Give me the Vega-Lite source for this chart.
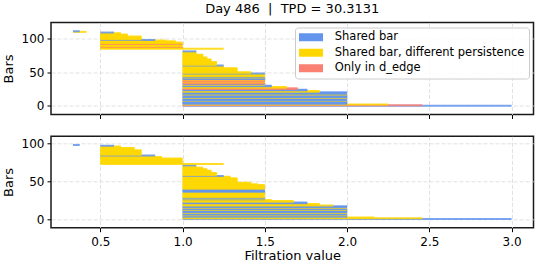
{
  "$schema": "https://vega.github.io/schema/vega-lite/v6.json",
  "padding": {"left": 1, "top": 1.5, "right": 0, "bottom": 0},
  "config": {
    "font": "DejaVu Sans",
    "view": {"stroke": "#1a1a1a", "strokeWidth": 1.5},
    "axis": {
      "grid": true, "gridColor": "#d9d9d9", "gridDash": [4, 2], "gridWidth": 0.8,
      "domain": false, "tickColor": "#000000", "tickSize": 4, "tickWidth": 1,
      "labelFontSize": 12, "labelColor": "#000000",
      "titleFontSize": 13, "titleFontWeight": "normal", "titleColor": "#000000"
    },
    "concat": {"spacing": 14.8}
  },
  "datasets": {
    "top": [
      {"y": 0, "b": 1, "d": 3.0, "c": "S"},
      {"y": 1, "b": 1, "d": 2.4583, "c": "O"},
      {"y": 2, "b": 1, "d": 2.25, "c": "D"},
      {"y": 3, "b": 1, "d": 2.0, "c": "S"},
      {"y": 4, "b": 1, "d": 2.0, "c": "S"},
      {"y": 5, "b": 1, "d": 2.0, "c": "S"},
      {"y": 6, "b": 1, "d": 2.0, "c": "S"},
      {"y": 7, "b": 1, "d": 2.0, "c": "D"},
      {"y": 8, "b": 1, "d": 2.0, "c": "S"},
      {"y": 9, "b": 1, "d": 2.0, "c": "S"},
      {"y": 10, "b": 1, "d": 2.0, "c": "S"},
      {"y": 11, "b": 1, "d": 2.0, "c": "S"},
      {"y": 12, "b": 1, "d": 2.0, "c": "D"},
      {"y": 13, "b": 1, "d": 2.0, "c": "S"},
      {"y": 14, "b": 1, "d": 2.0, "c": "S"},
      {"y": 15, "b": 1, "d": 2.0, "c": "S"},
      {"y": 16, "b": 1, "d": 2.0, "c": "S"},
      {"y": 17, "b": 1, "d": 2.0, "c": "D"},
      {"y": 18, "b": 1, "d": 2.0, "c": "S"},
      {"y": 19, "b": 1, "d": 2.0, "c": "S"},
      {"y": 20, "b": 1, "d": 2.0, "c": "S"},
      {"y": 21, "b": 1, "d": 1.8333, "c": "D"},
      {"y": 22, "b": 1, "d": 1.8333, "c": "D"},
      {"y": 23, "b": 1, "d": 1.7583, "c": "S"},
      {"y": 24, "b": 1, "d": 1.7583, "c": "S"},
      {"y": 25, "b": 1, "d": 1.7, "c": "O"},
      {"y": 26, "b": 1, "d": 1.7, "c": "O"},
      {"y": 27, "b": 1, "d": 1.6333, "c": "D"},
      {"y": 28, "b": 1, "d": 1.6333, "c": "D"},
      {"y": 29, "b": 1, "d": 1.5417, "c": "S"},
      {"y": 30, "b": 1, "d": 1.5417, "c": "S"},
      {"y": 31, "b": 1, "d": 1.5, "c": "D"},
      {"y": 32, "b": 1, "d": 1.5, "c": "S"},
      {"y": 33, "b": 1, "d": 1.5, "c": "O"},
      {"y": 34, "b": 1, "d": 1.5, "c": "O"},
      {"y": 35, "b": 1, "d": 1.5, "c": "D"},
      {"y": 36, "b": 1, "d": 1.5, "c": "O"},
      {"y": 37, "b": 1, "d": 1.5, "c": "O"},
      {"y": 38, "b": 1, "d": 1.5, "c": "D"},
      {"y": 39, "b": 1, "d": 1.5, "c": "O"},
      {"y": 40, "b": 1, "d": 1.5, "c": "S"},
      {"y": 41, "b": 1, "d": 1.5, "c": "S"},
      {"y": 42, "b": 1, "d": 1.5, "c": "D"},
      {"y": 43, "b": 1, "d": 1.5, "c": "S"},
      {"y": 44, "b": 1, "d": 1.5, "c": "D"},
      {"y": 45, "b": 1, "d": 1.5, "c": "D"},
      {"y": 46, "b": 1, "d": 1.5, "c": "D"},
      {"y": 47, "b": 1, "d": 1.5, "c": "D"},
      {"y": 48, "b": 1, "d": 1.5, "c": "S"},
      {"y": 49, "b": 1, "d": 1.4167, "c": "D"},
      {"y": 50, "b": 1, "d": 1.4167, "c": "D"},
      {"y": 51, "b": 1, "d": 1.3333, "c": "D"},
      {"y": 52, "b": 1, "d": 1.3333, "c": "D"},
      {"y": 53, "b": 1, "d": 1.3333, "c": "D"},
      {"y": 54, "b": 1, "d": 1.3333, "c": "D"},
      {"y": 55, "b": 1, "d": 1.3333, "c": "D"},
      {"y": 56, "b": 1, "d": 1.3333, "c": "D"},
      {"y": 57, "b": 1, "d": 1.25, "c": "D"},
      {"y": 58, "b": 1, "d": 1.25, "c": "D"},
      {"y": 59, "b": 1, "d": 1.25, "c": "D"},
      {"y": 60, "b": 1, "d": 1.25, "c": "S"},
      {"y": 61, "b": 1, "d": 1.2083, "c": "D"},
      {"y": 62, "b": 1, "d": 1.2083, "c": "D"},
      {"y": 63, "b": 1, "d": 1.2083, "c": "D"},
      {"y": 64, "b": 1, "d": 1.2083, "c": "D"},
      {"y": 65, "b": 1, "d": 1.2083, "c": "D"},
      {"y": 66, "b": 1, "d": 1.175, "c": "D"},
      {"y": 67, "b": 1, "d": 1.175, "c": "D"},
      {"y": 68, "b": 1, "d": 1.175, "c": "D"},
      {"y": 69, "b": 1, "d": 1.175, "c": "D"},
      {"y": 70, "b": 1, "d": 1.15, "c": "D"},
      {"y": 71, "b": 1, "d": 1.15, "c": "D"},
      {"y": 72, "b": 1, "d": 1.15, "c": "D"},
      {"y": 73, "b": 1, "d": 1.125, "c": "D"},
      {"y": 74, "b": 1, "d": 1.125, "c": "D"},
      {"y": 75, "b": 1, "d": 1.125, "c": "D"},
      {"y": 76, "b": 1, "d": 1.125, "c": "D"},
      {"y": 77, "b": 1, "d": 1.0833, "c": "D"},
      {"y": 78, "b": 1, "d": 1.0833, "c": "D"},
      {"y": 79, "b": 1, "d": 1.0833, "c": "D"},
      {"y": 80, "b": 1, "d": 1.0833, "c": "D"},
      {"y": 81, "b": 1, "d": 1.0833, "c": "S"},
      {"y": 85, "b": 0.5, "d": 1.25, "c": "D"},
      {"y": 86, "b": 0.5, "d": 1.0, "c": "D"},
      {"y": 87, "b": 0.5, "d": 1.0, "c": "D"},
      {"y": 88, "b": 0.5, "d": 1.0, "c": "O"},
      {"y": 89, "b": 0.5, "d": 1.0, "c": "D"},
      {"y": 90, "b": 0.5, "d": 1.0, "c": "D"},
      {"y": 91, "b": 0.5, "d": 1.0, "c": "D"},
      {"y": 92, "b": 0.5, "d": 1.0, "c": "O"},
      {"y": 93, "b": 0.5, "d": 1.0, "c": "D"},
      {"y": 94, "b": 0.5, "d": 1.0, "c": "D"},
      {"y": 95, "b": 0.5, "d": 0.9583, "c": "D"},
      {"y": 96, "b": 0.5, "d": 0.9583, "c": "D"},
      {"y": 97, "b": 0.5, "d": 0.9, "c": "D"},
      {"y": 98, "b": 0.5, "d": 0.8333, "c": "S"},
      {"y": 99, "b": 0.5, "d": 0.75, "c": "D"},
      {"y": 100, "b": 0.5, "d": 0.75, "c": "D"},
      {"y": 101, "b": 0.5, "d": 0.75, "c": "D"},
      {"y": 102, "b": 0.5, "d": 0.75, "c": "D"},
      {"y": 103, "b": 0.5, "d": 0.75, "c": "D"},
      {"y": 104, "b": 0.5, "d": 0.6667, "c": "D"},
      {"y": 105, "b": 0.5, "d": 0.6667, "c": "D"},
      {"y": 106, "b": 0.5, "d": 0.6667, "c": "D"},
      {"y": 107, "b": 0.5, "d": 0.625, "c": "D"},
      {"y": 108, "b": 0.5, "d": 0.625, "c": "D"},
      {"y": 109, "b": 0.5, "d": 0.5833, "c": "S"},
      {"y": 110, "b": 0.3333, "d": 0.4167, "c": "D"},
      {"y": 111, "b": 0.3333, "d": 0.375, "c": "S"}
    ],
    "bottom": [
      {"y": 0, "b": 1, "d": 3.0, "c": "S"},
      {"y": 1, "b": 1, "d": 2.4583, "c": "D"},
      {"y": 2, "b": 1, "d": 2.1667, "c": "D"},
      {"y": 3, "b": 1, "d": 2.0, "c": "S"},
      {"y": 4, "b": 1, "d": 2.0, "c": "S"},
      {"y": 5, "b": 1, "d": 2.0, "c": "D"},
      {"y": 6, "b": 1, "d": 2.0, "c": "S"},
      {"y": 7, "b": 1, "d": 2.0, "c": "S"},
      {"y": 8, "b": 1, "d": 2.0, "c": "D"},
      {"y": 9, "b": 1, "d": 2.0, "c": "S"},
      {"y": 10, "b": 1, "d": 2.0, "c": "S"},
      {"y": 11, "b": 1, "d": 2.0, "c": "S"},
      {"y": 12, "b": 1, "d": 2.0, "c": "D"},
      {"y": 13, "b": 1, "d": 2.0, "c": "S"},
      {"y": 14, "b": 1, "d": 2.0, "c": "S"},
      {"y": 15, "b": 1, "d": 2.0, "c": "D"},
      {"y": 16, "b": 1, "d": 2.0, "c": "S"},
      {"y": 17, "b": 1, "d": 2.0, "c": "S"},
      {"y": 18, "b": 1, "d": 1.9167, "c": "D"},
      {"y": 19, "b": 1, "d": 1.8333, "c": "D"},
      {"y": 20, "b": 1, "d": 1.8333, "c": "D"},
      {"y": 21, "b": 1, "d": 1.7583, "c": "S"},
      {"y": 22, "b": 1, "d": 1.7583, "c": "S"},
      {"y": 23, "b": 1, "d": 1.675, "c": "D"},
      {"y": 24, "b": 1, "d": 1.675, "c": "D"},
      {"y": 25, "b": 1, "d": 1.5417, "c": "D"},
      {"y": 26, "b": 1, "d": 1.5, "c": "S"},
      {"y": 27, "b": 1, "d": 1.5, "c": "D"},
      {"y": 28, "b": 1, "d": 1.5, "c": "S"},
      {"y": 29, "b": 1, "d": 1.5, "c": "D"},
      {"y": 30, "b": 1, "d": 1.5, "c": "D"},
      {"y": 31, "b": 1, "d": 1.5, "c": "D"},
      {"y": 32, "b": 1, "d": 1.5, "c": "D"},
      {"y": 33, "b": 1, "d": 1.5, "c": "D"},
      {"y": 34, "b": 1, "d": 1.5, "c": "D"},
      {"y": 35, "b": 1, "d": 1.5, "c": "D"},
      {"y": 36, "b": 1, "d": 1.5, "c": "S"},
      {"y": 37, "b": 1, "d": 1.5, "c": "S"},
      {"y": 38, "b": 1, "d": 1.5, "c": "S"},
      {"y": 39, "b": 1, "d": 1.5, "c": "S"},
      {"y": 40, "b": 1, "d": 1.5, "c": "D"},
      {"y": 41, "b": 1, "d": 1.5, "c": "D"},
      {"y": 42, "b": 1, "d": 1.5, "c": "D"},
      {"y": 43, "b": 1, "d": 1.5, "c": "D"},
      {"y": 44, "b": 1, "d": 1.5, "c": "D"},
      {"y": 45, "b": 1, "d": 1.5, "c": "D"},
      {"y": 46, "b": 1, "d": 1.4583, "c": "D"},
      {"y": 47, "b": 1, "d": 1.4167, "c": "D"},
      {"y": 48, "b": 1, "d": 1.4167, "c": "D"},
      {"y": 49, "b": 1, "d": 1.3333, "c": "D"},
      {"y": 50, "b": 1, "d": 1.3333, "c": "D"},
      {"y": 51, "b": 1, "d": 1.3333, "c": "D"},
      {"y": 52, "b": 1, "d": 1.3333, "c": "D"},
      {"y": 53, "b": 1, "d": 1.3333, "c": "D"},
      {"y": 54, "b": 1, "d": 1.3333, "c": "D"},
      {"y": 55, "b": 1, "d": 1.2917, "c": "D"},
      {"y": 56, "b": 1, "d": 1.2917, "c": "D"},
      {"y": 57, "b": 1, "d": 1.25, "c": "S"},
      {"y": 58, "b": 1, "d": 1.2083, "c": "D"},
      {"y": 59, "b": 1, "d": 1.2083, "c": "D"},
      {"y": 60, "b": 1, "d": 1.2083, "c": "D"},
      {"y": 61, "b": 1, "d": 1.2083, "c": "D"},
      {"y": 62, "b": 1, "d": 1.175, "c": "D"},
      {"y": 63, "b": 1, "d": 1.175, "c": "D"},
      {"y": 64, "b": 1, "d": 1.175, "c": "D"},
      {"y": 65, "b": 1, "d": 1.15, "c": "D"},
      {"y": 66, "b": 1, "d": 1.15, "c": "D"},
      {"y": 67, "b": 1, "d": 1.125, "c": "D"},
      {"y": 68, "b": 1, "d": 1.125, "c": "D"},
      {"y": 69, "b": 1, "d": 1.0833, "c": "D"},
      {"y": 70, "b": 1, "d": 1.0833, "c": "D"},
      {"y": 71, "b": 1, "d": 1.0833, "c": "S"},
      {"y": 73, "b": 0.5, "d": 1.25, "c": "D"},
      {"y": 74, "b": 0.5, "d": 1.0, "c": "D"},
      {"y": 75, "b": 0.5, "d": 1.0, "c": "D"},
      {"y": 76, "b": 0.5, "d": 1.0, "c": "D"},
      {"y": 77, "b": 0.5, "d": 1.0, "c": "D"},
      {"y": 78, "b": 0.5, "d": 1.0, "c": "D"},
      {"y": 79, "b": 0.5, "d": 1.0, "c": "D"},
      {"y": 80, "b": 0.5, "d": 1.0, "c": "D"},
      {"y": 81, "b": 0.5, "d": 0.875, "c": "D"},
      {"y": 82, "b": 0.5, "d": 0.875, "c": "D"},
      {"y": 83, "b": 0.5, "d": 0.8333, "c": "D"},
      {"y": 84, "b": 0.5, "d": 0.8333, "c": "S"},
      {"y": 85, "b": 0.5, "d": 0.75, "c": "D"},
      {"y": 86, "b": 0.5, "d": 0.75, "c": "D"},
      {"y": 87, "b": 0.5, "d": 0.75, "c": "D"},
      {"y": 88, "b": 0.5, "d": 0.75, "c": "D"},
      {"y": 89, "b": 0.5, "d": 0.75, "c": "D"},
      {"y": 90, "b": 0.5, "d": 0.75, "c": "D"},
      {"y": 91, "b": 0.5, "d": 0.75, "c": "D"},
      {"y": 92, "b": 0.5, "d": 0.7083, "c": "D"},
      {"y": 93, "b": 0.5, "d": 0.7083, "c": "D"},
      {"y": 94, "b": 0.5, "d": 0.7083, "c": "D"},
      {"y": 95, "b": 0.5, "d": 0.625, "c": "D"},
      {"y": 96, "b": 0.5, "d": 0.625, "c": "D"},
      {"y": 97, "b": 0.5, "d": 0.5833, "c": "S"},
      {"y": 98, "b": 0.3333, "d": 0.375, "c": "S"}
    ]
  },
  "vconcat": [
    {
      "width": 482.5,
      "height": 92,
      "title": {"text": "Day 486\u00a0 |\u00a0 TPD = 30.3131", "fontSize": 13, "fontWeight": "normal", "anchor": "middle", "frame": "group", "offset": 7, "color": "#000000"},
      "data": {"name": "top"},
      "mark": {"type": "bar", "size": 2, "opacity": 0.85},
      "encoding": {
        "x": {"field": "b", "type": "quantitative", "scale": {"domain": [0.2, 3.1333], "nice": false, "zero": false},
              "axis": {"values": [0.5, 1, 1.5, 2, 2.5, 3], "labels": false, "title": null}},
        "x2": {"field": "d"},
        "y": {"field": "y", "type": "quantitative", "scale": {"domain": [-5.5, 116.5], "nice": false, "zero": false},
              "axis": {"values": [0, 50, 100], "title": "Bars", "titlePadding": 6, "labelPadding": 3}},
        "color": {"field": "c", "type": "nominal",
                  "scale": {"domain": ["S", "D", "O"], "range": ["#6495ED", "#FFD700", "#FA8072"]},
                  "legend": {"title": null, "orient": "top-right", "offset": 5, "padding": 4,
                             "fillColor": "rgba(255,255,255,0.85)", "strokeColor": "#cccccc", "cornerRadius": 3,
                             "symbolType": "M-3,-1H3V1H-3Z", "symbolSize": 64, "symbolStrokeWidth": 0, "symbolOpacity": 1,
                             "symbolOffset": 6.25, "labelOffset": 18, "labelFontSize": 11.5, "labelColor": "#000000",
                             "labelLimit": 0, "rowPadding": 2.5,
                             "labelExpr": "datum.value == 'S' ? 'Shared bar' : datum.value == 'D' ? 'Shared bar, different persistence' : 'Only in d_edge'"}}
      }
    },
    {
      "width": 482.5,
      "height": 91.4,
      "data": {"name": "bottom"},
      "mark": {"type": "bar", "size": 2, "opacity": 0.85},
      "encoding": {
        "x": {"field": "b", "type": "quantitative", "scale": {"domain": [0.2, 3.1333], "nice": false, "zero": false},
              "axis": {"values": [0.5, 1, 1.5, 2, 2.5, 3], "format": ".1f", "title": "Filtration value", "labelPadding": 4.5, "titlePadding": 2}},
        "x2": {"field": "d"},
        "y": {"field": "y", "type": "quantitative", "scale": {"domain": [-4.9, 102.9], "nice": false, "zero": false},
              "axis": {"values": [0, 50, 100], "title": "Bars", "titlePadding": 6, "labelPadding": 3}},
        "color": {"field": "c", "type": "nominal",
                  "scale": {"domain": ["S", "D", "O"], "range": ["#6495ED", "#FFD700", "#FA8072"]},
                  "legend": null}
      }
    }
  ],
  "resolve": {"scale": {"color": "independent"}, "legend": {"color": "independent"}}
}
